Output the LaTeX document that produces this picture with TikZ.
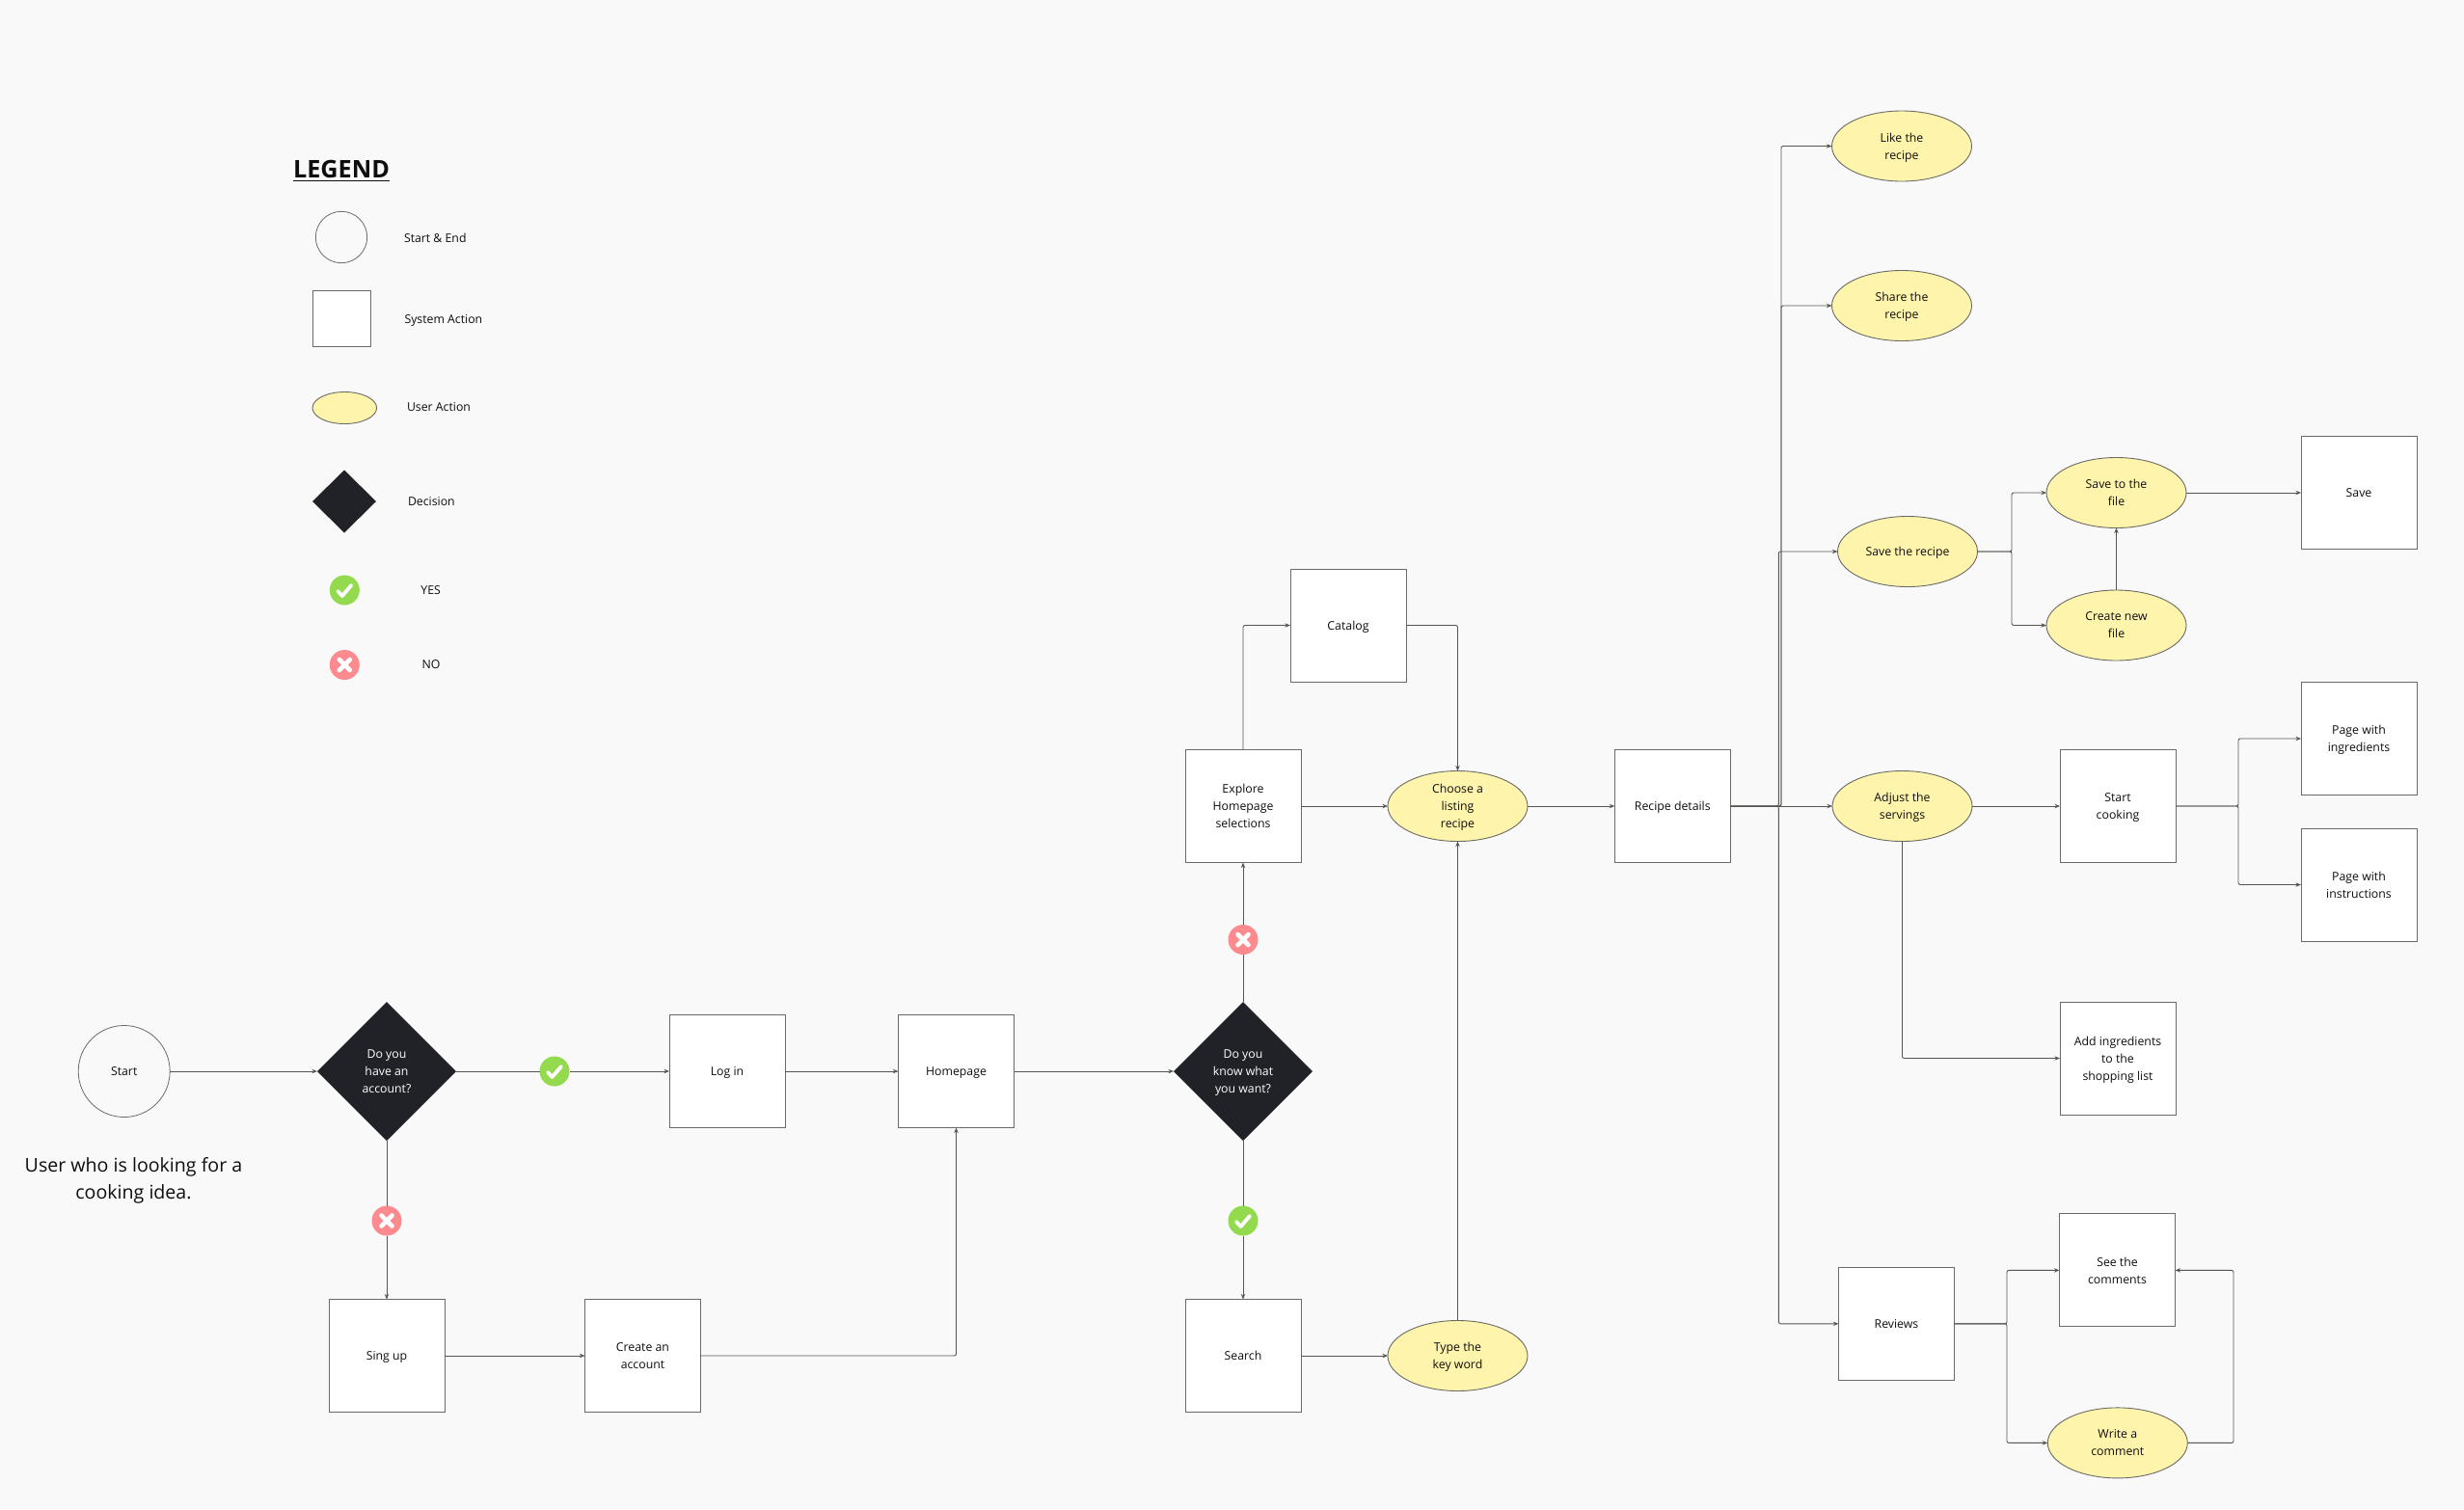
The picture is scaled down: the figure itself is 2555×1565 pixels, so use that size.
\documentclass[tikz,border=0pt]{standalone}
\usepackage{fontspec}
\setmainfont{Open Sans}
\usetikzlibrary{shapes.geometric,positioning,calc,arrows.meta}

\definecolor{pagebg}{HTML}{F9F9F9}
\definecolor{edgegrey}{HTML}{6A6A66}
\definecolor{linkgrey}{HTML}{555552}
\definecolor{useryellow}{HTML}{FFF4AB}
\definecolor{decisionblack}{HTML}{212228}
\definecolor{yesgreen}{HTML}{93DA4F}
\definecolor{nored}{HTML}{FD8A8E}
\definecolor{inktext}{HTML}{0E0E0E}

\tikzset{
  label text/.style={font=\fontsize{6.15}{9}\selectfont,text=inktext,align=center,inner sep=0pt,outer sep=0pt,text depth=-0.8pt},
  sysbox/.style={label text,draw=edgegrey,fill=white,line width=0.5pt,minimum width=60pt,minimum height=58.5pt},
  useroval/.style={label text,ellipse,draw=edgegrey,fill=useryellow,line width=0.45pt,minimum width=72.5pt,minimum height=36.5pt},
  decide/.style={label text,diamond,fill=decisionblack,text=white,minimum width=72pt,minimum height=72pt},
  startend/.style={label text,circle,draw=edgegrey,line width=0.4pt,minimum size=47.5pt},
  yesmark/.style={circle,fill=yesgreen,inner sep=0pt,outer sep=0pt,minimum size=15.5pt,
    path picture={\draw[white,line width=1.9pt,line cap=round,line join=round]
      ($(path picture bounding box.center)+(-7,1)$) -- ++(4.5,5) -- ++(9.5,-11);}},
  nomark/.style={circle,fill=nored,inner sep=0pt,outer sep=0pt,minimum size=15.5pt,
    path picture={\draw[white,line width=2.3pt,line cap=round]
      ($(path picture bounding box.center)+(-5.5,-5.5)$) -- ++(11,11)
      ($(path picture bounding box.center)+(-5.5,5.5)$) -- ++(11,-11);}},
  link/.style={draw=linkgrey,line width=0.45pt,rounded corners=1pt},
  linkto/.style={link,-{Stealth[length=2.8pt,width=2.2pt]}},
}

\begin{document}
\begin{tikzpicture}[x=0.5pt,y=-0.5pt]
  \useasboundingbox (0,0) rectangle (2555,1565);
  \fill[pagebg] (0,0) rectangle (2555,1565);

  % legend
  \node[font=\fontsize{12.6}{15}\selectfont\bfseries,text=inktext,inner sep=0pt] (legendtitle) at (354,177) {\underline{LEGEND}};
  \node[startend,minimum size=26.7pt] (legendstart) at (354,246) {};
  \node[sysbox,minimum width=30pt,minimum height=29.3pt] (legendbox) at (354.3,330.4) {};
  \node[useroval,minimum width=33.3pt,minimum height=16.5pt] (legendoval) at (357.3,423) {};
  \node[decide,minimum width=33pt,minimum height=32.5pt] (legenddecide) at (357,520) {};
  \node[yesmark] (legendyes) at (357.3,612) {};
  \node[nomark] (legendno) at (357.3,689.5) {};
  \node[label text,anchor=west] (startlabel) at (419,246.4) {Start \& End};
  \node[label text,anchor=west] (boxlabel) at (419.5,330.6) {System Action};
  \node[label text,anchor=west] (ovallabel) at (422,422.4) {User Action};
  \node[label text,anchor=west] (decidelabel) at (423,520.4) {Decision};
  \node[label text] (yeslabel) at (446.7,612.5) {YES};
  \node[label text] (nolabel) at (447,689.5) {NO};

  % sign up and log in
  \node[startend] (start) at (128.7,1111) {Start};
  \node[label text,font=\fontsize{9.8}{14}\selectfont] (persona) at (138.5,1222) {User who is looking for a\\cooking idea.};
  \node[decide] (hasaccount) at (401,1111) {Do you\\have an\\account?};
  \node[yesmark] (yesaccount) at (575,1111) {};
  \node[nomark] (noaccount) at (401,1266) {};
  \node[sysbox] (signup) at (401,1406) {Sing up};
  \node[sysbox] (create) at (666.5,1406) {Create an\\account};
  \node[sysbox] (login) at (754,1111) {Log in};
  \node[sysbox] (homepage) at (991.5,1111) {Homepage};

  % finding a recipe
  \node[decide] (knowwant) at (1289,1111) {Do you\\know what\\you want?};
  \node[nomark] (nowant) at (1289,974.5) {};
  \node[yesmark] (yeswant) at (1289,1266) {};
  \node[sysbox] (search) at (1289,1406) {Search};
  \node[useroval] (keyword) at (1511.5,1406) {Type the\\key word};
  \node[sysbox] (explore) at (1289,836) {Explore\\Homepage\\selections};
  \node[sysbox] (catalog) at (1398,648.5) {Catalog};
  \node[useroval] (choose) at (1511.5,836) {Choose a\\listing\\recipe};
  \node[sysbox] (recipe) at (1734.3,836) {Recipe details};

  % recipe branches
  \node[useroval] (like) at (1972,151.5) {Like the\\recipe};
  \node[useroval] (share) at (1972,317) {Share the\\recipe};
  \node[useroval] (saverecipe) at (1978,572) {Save the recipe};
  \node[useroval] (savefile) at (2194.5,511) {Save to the\\file};
  \node[useroval] (newfile) at (2194.5,648.5) {Create new\\file};
  \node[sysbox] (save) at (2446,511) {Save};
  \node[useroval] (adjust) at (1972.5,836) {Adjust the\\servings};
  \node[sysbox] (cooking) at (2196,836) {Start\\cooking};
  \node[sysbox] (ingredients) at (2446,766) {Page with\\ingredients};
  \node[sysbox] (instructions) at (2446,917.5) {Page with\\instructions};
  \node[sysbox] (shopping) at (2196,1097.5) {Add ingredients\\to the\\shopping list};
  \node[sysbox] (reviews) at (1966.5,1372.8) {Reviews};
  \node[sysbox] (comments) at (2195.5,1317.4) {See the\\comments};
  \node[useroval] (write) at (2195.8,1496.4) {Write a\\comment};

  % elbows
  \coordinate (trunkup) at (1847,836);
  \coordinate (trunkdown) at (1844.3,836);
  \coordinate (savesplit) at (2086,572);
  \coordinate (cooksplit) at (2321,836);
  \coordinate (reviewsplit) at (2081,1372.8);
  \coordinate (writeback) at (2316,1496.4);

  % connectors
  \draw[linkto] (start) -- (hasaccount);
  \draw[link] (hasaccount) -- (yesaccount);
  \draw[linkto] (yesaccount) -- (login);
  \draw[link] (hasaccount) -- (noaccount);
  \draw[linkto] (noaccount) -- (signup);
  \draw[linkto] (signup) -- (create);
  \draw[linkto] (create.east) -| (homepage.south);
  \draw[linkto] (login) -- (homepage);
  \draw[linkto] (homepage) -- (knowwant);
  \draw[link] (knowwant) -- (nowant);
  \draw[linkto] (nowant) -- (explore);
  \draw[link] (knowwant) -- (yeswant);
  \draw[linkto] (yeswant) -- (search);
  \draw[linkto] (search) -- (keyword);
  \draw[linkto] (keyword) -- (choose);
  \draw[linkto] (explore.north) |- (catalog.west);
  \draw[linkto] (explore) -- (choose);
  \draw[linkto] (catalog.east) -| (choose.north);
  \draw[linkto] (choose) -- (recipe);
  \draw[linkto] (recipe.east) -- (trunkup) |- (like.west);
  \draw[linkto] (recipe.east) -- (trunkup) |- (share.west);
  \draw[linkto] (recipe.east) -- (trunkdown) |- (saverecipe.west);
  \draw[linkto] (recipe.east) -- (adjust.west);
  \draw[linkto] (recipe.east) -- (trunkdown) |- (reviews.west);
  \draw[linkto] (saverecipe.east) -- (savesplit) |- (savefile.west);
  \draw[linkto] (saverecipe.east) -- (savesplit) |- (newfile.west);
  \draw[linkto] (newfile) -- (savefile);
  \draw[linkto] (savefile) -- (save);
  \draw[linkto] (adjust) -- (cooking);
  \draw[linkto] (adjust.south) |- (shopping.west);
  \draw[linkto] (cooking.east) -- (cooksplit) |- (ingredients.west);
  \draw[linkto] (cooking.east) -- (cooksplit) |- (instructions.west);
  \draw[linkto] (reviews.east) -- (reviewsplit) |- (comments.west);
  \draw[linkto] (reviews.east) -- (reviewsplit) |- (write.west);
  \draw[linkto] (write.east) -- (writeback) |- (comments.east);
\end{tikzpicture}
\end{document}
